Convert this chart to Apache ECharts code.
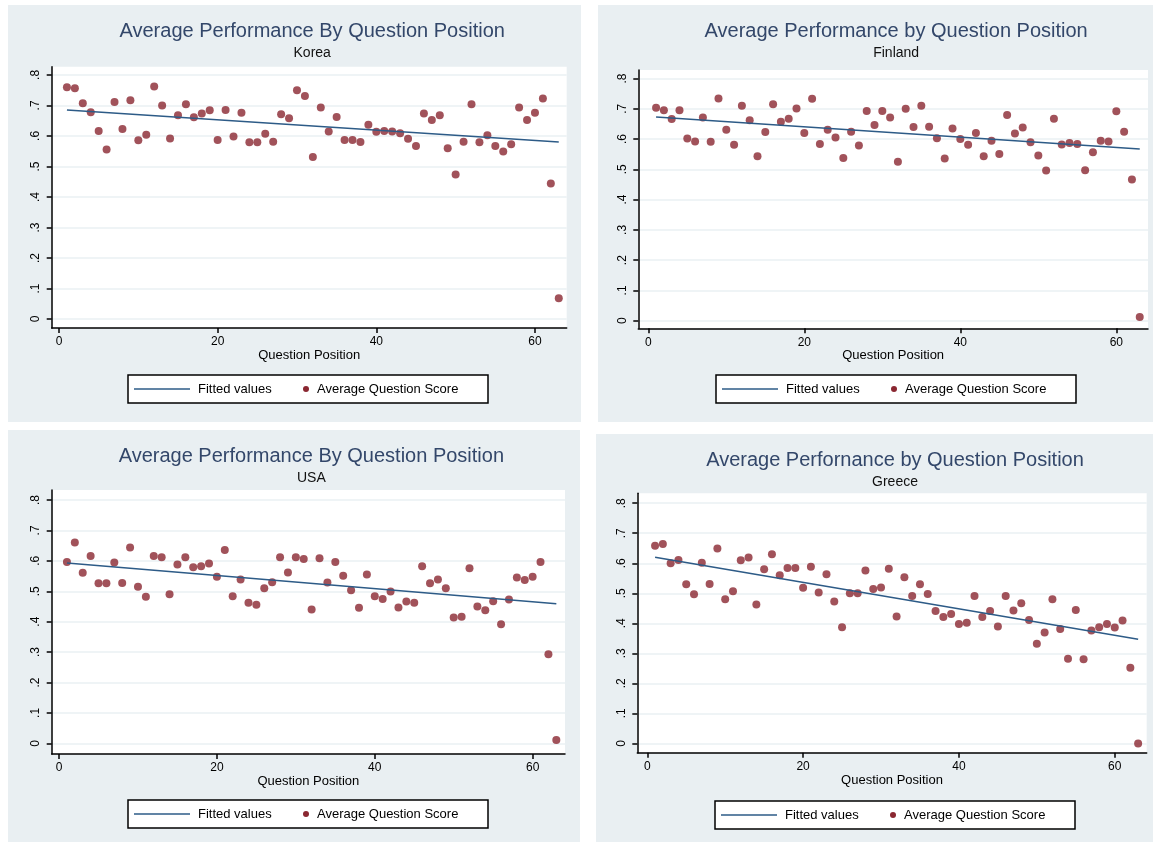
<!DOCTYPE html>
<html lang="en">
<head>
    <meta charset="UTF-8">
    <title>Average Performance By Question Position</title>
    <script src="https://cdn.jsdelivr.net/npm/echarts@6.0.0/dist/echarts.min.js"></script>
    <style>
        html, body {
            margin: 0;
            padding: 0;
            background-color: #fff;
        }
    </style>
</head>
<body>
<div id="chart" style="width: 1153px;height: 842px;"></div>
<script>
    // average score of each question, question position 1..63
    var koreaScores = [0.76, 0.756, 0.707, 0.678, 0.616, 0.556, 0.711, 0.623, 0.717, 0.586,
        0.604, 0.762, 0.70, 0.592, 0.668, 0.704, 0.661, 0.674, 0.684, 0.587,
        0.685, 0.598, 0.676, 0.579, 0.579, 0.607, 0.581, 0.671, 0.658, 0.75,
        0.731, 0.531, 0.693, 0.615, 0.662, 0.587, 0.587, 0.58, 0.637, 0.614,
        0.616, 0.615, 0.609, 0.591, 0.567, 0.674, 0.652, 0.668, 0.56, 0.474,
        0.581, 0.704, 0.579, 0.602, 0.567, 0.549, 0.573, 0.693, 0.652, 0.676,
        0.723, 0.444, 0.068];
    var finlandScores = [0.703, 0.695, 0.666, 0.695, 0.602, 0.592, 0.671, 0.591, 0.734, 0.631,
        0.581, 0.71, 0.662, 0.543, 0.623, 0.715, 0.657, 0.667, 0.701, 0.62,
        0.733, 0.584, 0.631, 0.605, 0.537, 0.624, 0.579, 0.693, 0.646, 0.693,
        0.671, 0.525, 0.70, 0.64, 0.71, 0.641, 0.603, 0.536, 0.635, 0.60,
        0.581, 0.62, 0.543, 0.594, 0.551, 0.679, 0.618, 0.638, 0.589, 0.546,
        0.496, 0.667, 0.582, 0.587, 0.584, 0.497, 0.556, 0.594, 0.592, 0.692,
        0.624, 0.466, 0.012];
    var usaScores = [0.596, 0.66, 0.561, 0.616, 0.526, 0.526, 0.595, 0.527, 0.644, 0.515,
        0.482, 0.616, 0.612, 0.49, 0.588, 0.612, 0.579, 0.582, 0.591, 0.548,
        0.636, 0.484, 0.539, 0.462, 0.456, 0.51, 0.53, 0.612, 0.562, 0.612,
        0.606, 0.44, 0.609, 0.529, 0.596, 0.551, 0.503, 0.446, 0.555, 0.484,
        0.475, 0.499, 0.447, 0.466, 0.462, 0.582, 0.526, 0.539, 0.51, 0.414,
        0.416, 0.576, 0.45, 0.438, 0.467, 0.392, 0.473, 0.545, 0.537, 0.548,
        0.596, 0.293, 0.011];
    var greeceScores = [0.658, 0.664, 0.60, 0.611, 0.53, 0.497, 0.602, 0.531, 0.649, 0.48,
        0.507, 0.61, 0.619, 0.463, 0.58, 0.63, 0.56, 0.584, 0.584, 0.518,
        0.588, 0.503, 0.563, 0.473, 0.387, 0.50, 0.50, 0.576, 0.514, 0.519,
        0.582, 0.423, 0.553, 0.491, 0.53, 0.498, 0.441, 0.421, 0.431, 0.398,
        0.402, 0.491, 0.421, 0.441, 0.389, 0.491, 0.443, 0.467, 0.411, 0.332,
        0.369, 0.48, 0.381, 0.282, 0.444, 0.28, 0.376, 0.387, 0.398, 0.386,
        0.409, 0.252, 0.0];

    // fitted line, value at first and last question
    var fitPositions = [1, 63];
    var koreaFit = [0.685, 0.58];
    var finlandFit = [0.673, 0.567];
    var usaFit = [0.593, 0.459];
    var greeceFit = [0.62, 0.347];

    var xTicks = [0, 20, 40, 60];
    var yTicks = [0, 0.1, 0.2, 0.3, 0.4, 0.5, 0.6, 0.7, 0.8];

    var panels = [
        {
            title: 'Average Performance By Question Position', sub: 'Korea',
            scores: koreaScores, fit: koreaFit,
            box: [8, 5, 573, 417], grid: [51.7, 66.7, 515, 261.3],
            xRange: [-0.92, 64.0], yRange: [-0.0295, 0.827], legendLeft: 128, legendTop: 375
        },
        {
            title: 'Average Performance by Question Position', sub: 'Finland',
            scores: finlandScores, fit: finlandFit,
            box: [598, 5, 555, 417], grid: [638.3, 70, 509.7, 258.3],
            xRange: [-1.28, 64.06], yRange: [-0.025, 0.828], legendLeft: 716, legendTop: 375
        },
        {
            title: 'Average Performance By Question Position', sub: 'USA',
            scores: usaScores, fit: usaFit,
            box: [8, 430, 572, 412], grid: [51.7, 490, 513.3, 264],
            xRange: [-0.93, 64.1], yRange: [-0.035, 0.833], legendLeft: 128, legendTop: 800
        },
        {
            title: 'Average Perfornance by Question Position', sub: 'Greece',
            scores: greeceScores, fit: greeceFit,
            box: [596, 434, 557, 408], grid: [637.3, 493.3, 509.4, 259.4],
            xRange: [-1.28, 64.1], yRange: [-0.031, 0.833], legendLeft: 715, legendTop: 801
        }
    ];

    var font = '"Liberation Sans", Arial, sans-serif';
    var panelColor = '#e9eff2';
    var lineColor = '#2d5b87';
    var dotColor = '#8a2731';

    var titles = [], grids = [], xAxes = [], yAxes = [], series = [], graphics = [];

    panels.forEach(function (p, i) {
        var g = p.grid;

        // panel background
        graphics.push({
            type: 'rect', z: -100,
            shape: {x: p.box[0], y: p.box[1], width: p.box[2], height: p.box[3]},
            style: {fill: panelColor}
        });

        titles.push({
            text: p.title,
            subtext: p.sub,
            left: g[0] + g[2] / 2 - 2,
            top: p.box[1] + 11,
            textAlign: 'center',
            itemGap: 5,
            textStyle: {fontFamily: font, fontSize: 20, fontWeight: 'normal', color: '#33476a'},
            subtextStyle: {fontFamily: font, fontSize: 14, color: '#111'}
        });

        grids.push({
            left: g[0], top: g[1], width: g[2], height: g[3],
            show: true, backgroundColor: '#fff', borderWidth: 0
        });

        xAxes.push({
            gridIndex: i, type: 'value',
            min: p.xRange[0], max: p.xRange[1],
            name: 'Question Position', nameLocation: 'middle', nameGap: 21,
            nameTextStyle: {fontFamily: font, fontSize: 13, color: '#000'},
            axisLine: {onZero: false, lineStyle: {color: '#000', width: 1.5}},
            axisTick: {customValues: xTicks, length: 5, lineStyle: {color: '#000', width: 1.5}},
            axisLabel: {customValues: xTicks, fontFamily: font, fontSize: 12, color: '#000', margin: 8},
            splitLine: {show: false}
        });

        yAxes.push({
            gridIndex: i, type: 'value',
            min: p.yRange[0], max: p.yRange[1],
            axisLine: {show: true, onZero: false, lineStyle: {color: '#000', width: 1.5}},
            axisTick: {show: true, customValues: yTicks, length: 5, lineStyle: {color: '#000', width: 1.5}},
            axisLabel: {
                customValues: yTicks, rotate: 90, margin: 10,
                fontFamily: font, fontSize: 12, color: '#000',
                formatter: function (v) {
                    return v === 0 ? '0' : '.' + Math.round(v * 10);
                }
            },
            splitLine: {show: true, lineStyle: {color: '#eaf0f3', width: 1.5}}
        });

        series.push({
            name: 'Fitted values', type: 'line',
            xAxisIndex: i, yAxisIndex: i,
            symbol: 'none',
            lineStyle: {color: lineColor, width: 1.6},
            data: fitPositions.map(function (x, k) {
                return [x, p.fit[k]];
            })
        });

        series.push({
            name: 'Average Question Score', type: 'scatter',
            xAxisIndex: i, yAxisIndex: i,
            symbol: 'circle', symbolSize: 8,
            itemStyle: {color: dotColor},
            data: p.scores.map(function (v, k) {
                return [k + 1, v];
            })
        });

        // legend box like the stata one
        var lx = p.legendLeft, ly = p.legendTop;
        graphics.push({
            type: 'group', z: 100,
            children: [
                {
                    type: 'rect',
                    shape: {x: lx, y: ly, width: 360, height: 28},
                    style: {fill: '#fff', stroke: '#000', lineWidth: 1.5}
                },
                {
                    type: 'line',
                    shape: {x1: lx + 6, y1: ly + 14, x2: lx + 62, y2: ly + 14},
                    style: {stroke: lineColor, lineWidth: 1.6}
                },
                {
                    type: 'text', x: lx + 70, y: ly + 14,
                    style: {text: 'Fitted values', font: '13px ' + font, fill: '#000', verticalAlign: 'middle'}
                },
                {
                    type: 'circle',
                    shape: {cx: lx + 178, cy: ly + 14, r: 3},
                    style: {fill: dotColor}
                },
                {
                    type: 'text', x: lx + 189, y: ly + 14,
                    style: {text: 'Average Question Score', font: '13px ' + font, fill: '#000', verticalAlign: 'middle'}
                }
            ]
        });
    });

    var chart = echarts.init(document.getElementById('chart'));
    chart.setOption({
        animation: false,
        backgroundColor: '#fff',
        title: titles,
        grid: grids,
        xAxis: xAxes,
        yAxis: yAxes,
        series: series,
        graphic: graphics
    });
</script>
</body>
</html>
